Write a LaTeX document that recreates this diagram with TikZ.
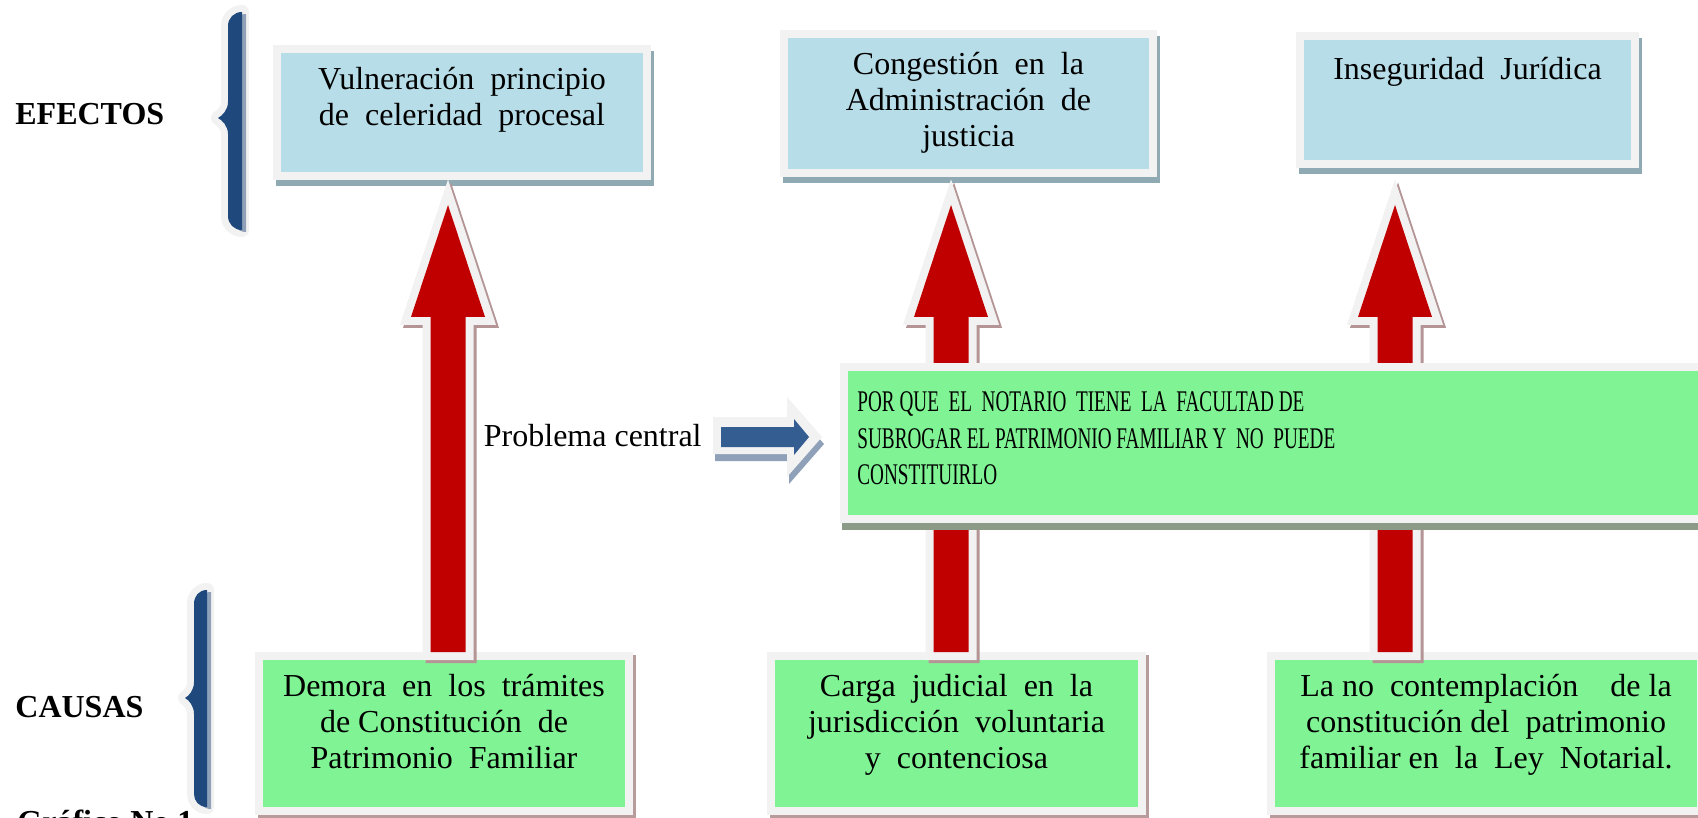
\documentclass[tikz,border=0pt]{standalone}
\usepackage{fontspec}
\setmainfont{Liberation Serif}
\newfontfamily\narrowserif[FakeStretch=0.64]{Liberation Serif}
\usetikzlibrary{calc,positioning,shadows}
\definecolor{aqualight}{RGB}{183,221,232}
\definecolor{greenbox}{RGB}{128,244,148}
\definecolor{rim}{RGB}{242,242,242}
\definecolor{shteal}{RGB}{143,170,178}
\definecolor{shrose}{RGB}{184,156,156}
\definecolor{sholive}{RGB}{140,155,135}
\definecolor{arrowred}{RGB}{192,0,0}
\definecolor{shred}{RGB}{180,148,148}
\definecolor{arrowblue}{RGB}{52,94,145}
\definecolor{shblue}{RGB}{143,160,185}
\definecolor{bracenavy}{RGB}{31,73,125}
\newcommand{\redup}[2]{($(#1)+(-17.5,0)$) -- ($(#2)+(-17.5,135)$) -- ($(#2)+(-37,135)$) -- ($(#2)+(0,23)$) -- ($(#2)+(37,135)$) -- ($(#2)+(17.5,135)$) -- ($(#1)+(17.5,0)$) -- cycle}

\begin{document}
\begin{tikzpicture}[x=0.5pt,y=-0.5pt]
	\tikzstyle{every node}=[font=\fontsize{16}{18}\selectfont]
	\tikzstyle{effbox}=[rectangle, fill=aqualight, draw=rim, line width=4pt, general shadow={fill=shteal, draw=shteal, line width=4pt, shadow xshift=1.5pt, shadow yshift=-3pt}]
	\tikzstyle{causebox}=[rectangle, fill=greenbox, draw=rim, line width=4pt, general shadow={fill=shrose, draw=shrose, line width=4pt, shadow xshift=1.5pt, shadow yshift=-1.5pt}]
	\tikzstyle{corebox}=[rectangle, fill=greenbox, draw=rim, line width=4pt, general shadow={fill=sholive, draw=sholive, line width=4pt, shadow xshift=1pt, shadow yshift=-3.5pt}]
	\tikzstyle{boxtext}=[align=center, inner sep=0pt]
	\tikzstyle{rowlabel}=[font=\fontsize{16}{18}\selectfont\bfseries, inner sep=0pt, anchor=base west]
	\tikzstyle{braceedge}=[fill=rim, draw=rim, line width=7pt, line join=round]
	\tikzstyle{braceshade}=[fill=shblue, shift={(4,2)}]
	\tikzstyle{bracefill}=[fill=bracenavy]
	\tikzstyle{arrowshade}=[fill=shred, draw=shred, line width=8pt, transform canvas={xshift=1.5pt,yshift=-1.5pt}]
	\tikzstyle{arrowedge}=[fill=rim, draw=rim, line width=8pt]
	\tikzstyle{arrowfill}=[fill=arrowred]
	\useasboundingbox[fill=white] (0,0) rectangle (1698,818);

	\foreach \layer in {braceedge,braceshade,bracefill}{
		\path[\layer] (242,12) -- (242,230) .. controls (234,230) and (228,224) .. (228,216) -- (228,134) .. controls (228,126) and (222,120) .. (218,118) .. controls (222,116) and (228,110) .. (228,102) -- (228,26) .. controls (228,18) and (234,12) .. (242,12) -- cycle;
		\path[\layer] (207,590) -- (207,807) .. controls (199,807) and (194,801) .. (194,794) -- (194,714) .. controls (194,706) and (189,700) .. (185,698) .. controls (189,696) and (194,690) .. (194,682) -- (194,604) .. controls (194,596) and (199,590) .. (207,590) -- cycle;
	}
	\node[rowlabel] (efe) at (15,125) {EFECTOS};
	\node[rowlabel] (cau) at (15,717) {CAUSAS};
	\node[rowlabel] (graf) at (17,832) {Gráfico No 1};

	\node[effbox, minimum width=185pt, minimum height=63.5pt] (e1) at (462,112.5) {};
	\node[effbox, minimum width=184.5pt, minimum height=69.5pt] (e2) at (968.5,103.5) {};
	\node[effbox, minimum width=167.5pt, minimum height=64pt] (e3) at (1467.5,100) {};
	\node[boxtext, below=10.9pt of e1.north] (e1t) {Vulneración~ principio\\de~ celeridad~ procesal};
	\node[boxtext, below=10.9pt of e2.north] (e2t) {Congestión~ en~ la\\Administración~ de\\justicia};
	\node[boxtext, below=12.6pt of e3.north] (e3t) {Inseguridad~ Jurídica};

	\node[causebox, minimum width=185pt, minimum height=77.5pt] (d1) at (444,733.5) {};
	\node[causebox, minimum width=185.5pt, minimum height=77.5pt] (d2) at (956.5,733.5) {};
	\node[causebox, minimum width=215pt, minimum height=77.5pt] (d3) at (1486,733.5) {};
	\node[boxtext, below=10.9pt of d1.north] (d1t) {Demora~ en~ los~ trámites\\de Constitución~ de\\Patrimonio~ Familiar};
	\node[boxtext, below=10.9pt of d2.north] (d2t) {Carga~ judicial~ en~ la\\jurisdicción~ voluntaria\\y~ contenciosa};
	\node[boxtext, below=10.9pt of d3.north] (d3t) {La no~ contemplación~ ~ de la\\constitución del~ patrimonio\\familiar en~ la~ Ley~ Notarial.};

	\coordinate (k1) at (448,182);
	\coordinate (k2) at (951,182);
	\coordinate (k3) at (1395,182);
	\foreach \layer in {arrowshade,arrowedge,arrowfill}
		\foreach \tip/\foot in {k1/d1,k2/d2,k3/d3}
			\path[\layer] \redup{\foot.north -| \tip}{\tip};

	\node[corebox, minimum width=436pt, minimum height=76pt] (c) at (1280,443) {};
	\node[boxtext, align=left, font=\narrowserif\fontsize{15}{18.25}\selectfont, below right=14.2pt and 8.5pt of c.north west] (ct) {POR QUE~ EL~ NOTARIO~ TIENE~ LA~ FACULTAD DE\\SUBROGAR EL PATRIMONIO FAMILIAR Y~ NO~ PUEDE\\CONSTITUIRLO};

	\node[inner sep=0pt, anchor=east] (pc) at (702,436) {Problema central};
	\begin{scope}[shift={(pc.east)}]
		\fill[shblue] (13,-12) -- (87,-12) -- (87,-32) -- (122,8) -- (87,48) -- (87,25) -- (13,25) -- cycle;
		\fill[rim] (11,-19) -- (85,-19) -- (85,-39) -- (120,1) -- (85,41) -- (85,18) -- (11,18) -- cycle;
		\fill[arrowblue] (19,-9) -- (92,-9) -- (92,-17) -- (107,1) -- (92,19) -- (92,11) -- (19,11) -- cycle;
	\end{scope}
\end{tikzpicture}
\end{document}
